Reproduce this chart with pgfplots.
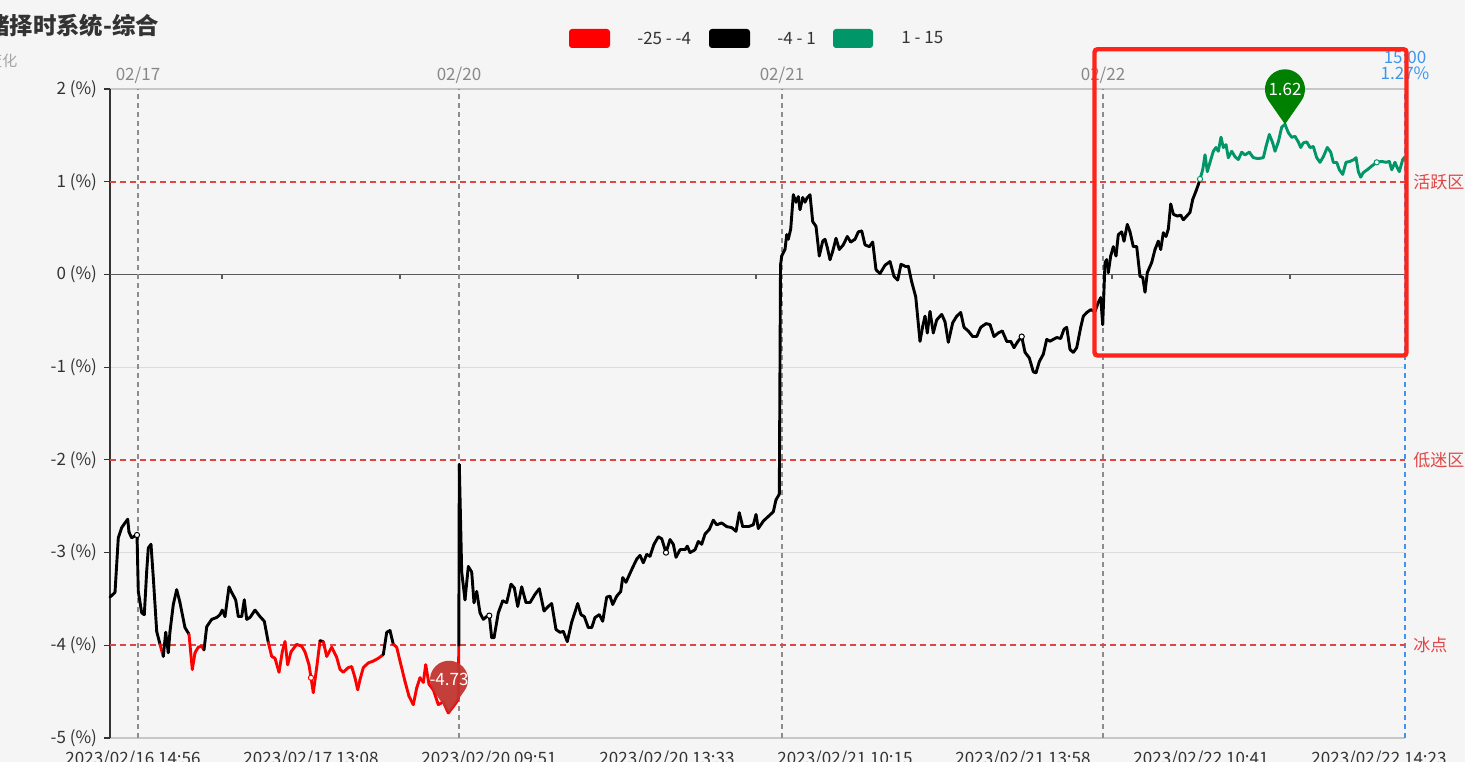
\documentclass[border=0pt]{standalone}
\usepackage{pgfplots}
\usepackage{pgfplotstable}
\pgfplotsset{compat=1.18}
\usepackage{fontspec}
\setmainfont{Noto Sans CJK SC}
\definecolor{bgc}{RGB}{245,245,245}
\definecolor{textdark}{RGB}{51,51,51}
\definecolor{axisdark}{RGB}{51,51,51}
\definecolor{gridgray}{RGB}{220,220,220}
\definecolor{topgray}{RGB}{136,136,136}
\definecolor{zerogray}{RGB}{90,90,90}
\definecolor{dashgray}{RGB}{140,140,140}
\definecolor{zonered}{RGB}{225,70,70}
\definecolor{linegreen}{RGB}{0,150,104}
\definecolor{linered}{RGB}{255,0,0}
\definecolor{pingreen}{RGB}{0,128,0}
\definecolor{pinred}{RGB}{194,53,49}
\definecolor{blueline}{RGB}{60,150,240}
\definecolor{annred}{RGB}{255,35,25}
\newcommand\tlfont{\fontsize{8.5pt}{10pt}\selectfont}

\pgfplotstableread{
x y
110 -3.48
115 -3.43
118.3 -2.84
121.7 -2.73
125 -2.68
127.7 -2.64
129 -2.78
131.7 -2.84
135 -2.82
137 -2.81
138.3 -3.42
141.7 -3.65
144.3 -3.67
146.7 -3.20
148.3 -2.95
151 -2.91
153.3 -3.27
156.7 -3.85
160 -3.99
163.3 -4.12
165.7 -3.86
168.3 -4.08
170 -3.85
173.3 -3.56
176.7 -3.40
180 -3.54
185 -3.81
189 -3.88
192.3 -4.26
195 -4.08
198.3 -4.02
201.7 -4.01
204 -4.05
206.7 -3.80
211.7 -3.72
216.7 -3.70
220 -3.67
222.3 -3.62
225 -3.69
229 -3.37
231.7 -3.43
235.7 -3.51
238.3 -3.69
241.7 -3.69
244.3 -3.51
246.7 -3.72
250 -3.70
255 -3.62
260 -3.69
264.3 -3.74
268.3 -3.97
271.7 -4.12
275 -4.14
279 -4.29
282.3 -4.07
285 -3.96
287.7 -4.21
291 -4.07
296.7 -3.99
301.7 -4.01
305 -4.07
309 -4.21
311 -4.35
313.3 -4.51
316.7 -4.24
320 -3.95
323.3 -3.96
326.7 -4.12
331.7 -4.02
336.7 -4.13
340 -4.26
343.3 -4.29
348.3 -4.24
351.7 -4.23
355 -4.35
357.7 -4.48
360 -4.37
363.3 -4.24
368.3 -4.19
373.3 -4.17
378.3 -4.14
383.3 -4.10
386.7 -3.86
390 -3.84
393.3 -3.99
396.7 -4.02
400 -4.17
405 -4.39
409 -4.55
413.3 -4.64
416.7 -4.46
420 -4.35
423.3 -4.40
425.7 -4.21
429 -4.42
433.3 -4.48
438.3 -4.64
443.3 -4.61
448.3 -4.73
453.3 -4.66
456.7 -4.61
458.3 -4.57
458.8 -4.00
459.3 -2.05
461.7 -3.21
465 -3.51
468.3 -3.15
471.7 -3.21
474 -3.54
476.7 -3.42
480 -3.65
483.3 -3.72
486.7 -3.69
489.3 -3.68
491.7 -3.92
494 -3.92
498.3 -3.65
502.7 -3.52
506.7 -3.54
511 -3.34
514.3 -3.38
517.7 -3.58
521.7 -3.37
526 -3.54
530 -3.54
535 -3.45
539.3 -3.39
544 -3.63
548.3 -3.58
551.7 -3.55
556 -3.83
560 -3.86
563.3 -3.85
567.3 -3.96
571.7 -3.75
577.7 -3.55
581 -3.67
584.3 -3.69
588.3 -3.81
591.7 -3.81
595 -3.70
599.3 -3.67
602.7 -3.74
606.7 -3.48
610 -3.47
612.7 -3.56
616.7 -3.47
620.7 -3.42
622.7 -3.27
626 -3.32
629.3 -3.24
632.7 -3.16
636.7 -3.07
640 -3.03
643.3 -3.11
646.7 -3.02
650 -3.04
654 -2.91
658.3 -2.83
661.7 -2.85
666 -3.00
670 -2.86
673.3 -2.91
676 -3.05
680 -2.97
685 -2.97
687.3 -2.93
690 -3.00
695 -2.97
698.3 -2.88
701.7 -2.91
705 -2.80
709.3 -2.75
713.3 -2.65
716.7 -2.70
721.7 -2.68
726.7 -2.72
731.7 -2.73
736 -2.77
739.3 -2.57
742.7 -2.72
748.3 -2.72
753.3 -2.70
756 -2.59
758.3 -2.74
763.3 -2.66
768.3 -2.61
773.3 -2.56
776 -2.43
779.3 -2.37
780.5 0.10
781.7 0.20
785 0.27
786.7 0.43
788.3 0.38
790.7 0.49
793.3 0.86
796 0.78
798.3 0.84
800 0.70
802.7 0.83
805 0.78
807.3 0.83
810 0.86
812.7 0.57
816 0.52
819.3 0.20
822.7 0.36
825 0.38
827.3 0.29
830 0.16
832.7 0.25
836 0.39
839.3 0.27
843.3 0.32
847.3 0.41
850.7 0.35
855 0.38
858.3 0.46
861.7 0.47
865 0.32
869.3 0.30
872.7 0.35
876 0.05
880 0.01
885 0.10
890 0.14
894 -0.02
897.7 -0.06
901 0.11
905 0.09
908.3 0.09
911.7 -0.08
915.7 -0.24
920 -0.72
922.7 -0.56
925 -0.45
927.3 -0.63
930 -0.40
933.3 -0.63
936.7 -0.49
941.7 -0.43
945 -0.51
948.3 -0.73
952.7 -0.52
956.7 -0.45
960.7 -0.41
964 -0.57
968.3 -0.61
972.7 -0.67
976.7 -0.67
980.7 -0.57
986 -0.53
990 -0.54
994 -0.67
998.3 -0.63
1002.3 -0.61
1006.7 -0.72
1010.7 -0.72
1014 -0.79
1017.3 -0.73
1021.7 -0.67
1025 -0.84
1029.3 -0.90
1033.3 -1.05
1036 -1.06
1039.3 -0.94
1043.3 -0.86
1046.7 -0.70
1050 -0.72
1053.3 -0.70
1056.7 -0.68
1060.7 -0.69
1064 -0.59
1066.7 -0.57
1070 -0.81
1073.3 -0.84
1076.7 -0.79
1080.7 -0.57
1083.3 -0.45
1086.7 -0.41
1090.7 -0.38
1095 -0.40
1098.3 -0.30
1100.7 -0.25
1102.7 -0.54
1105 0.13
1106.7 0.16
1108.3 0.02
1110.7 0.20
1113.3 0.30
1116 0.20
1118.3 0.43
1121.7 0.46
1124 0.36
1127.3 0.54
1130 0.46
1133.3 0.30
1136.7 0.30
1140 -0.02
1142.7 -0.03
1145 -0.19
1147.3 0.02
1151.7 0.13
1155 0.27
1158.3 0.36
1160.7 0.27
1163.3 0.45
1166 0.41
1168.3 0.49
1170.7 0.76
1173.3 0.65
1177.3 0.63
1180.7 0.64
1183.3 0.59
1186.7 0.63
1190 0.67
1192.7 0.81
1196 0.90
1198.3 0.97
1200 1.03
1202.7 1.13
1205 1.29
1207.3 1.11
1210 1.21
1213.3 1.33
1216 1.37
1218.3 1.33
1221 1.48
1223.3 1.37
1226 1.40
1228.3 1.26
1231.7 1.33
1235 1.27
1238.3 1.24
1241.7 1.32
1245 1.29
1249.3 1.32
1253.3 1.26
1258.3 1.25
1263.3 1.26
1266 1.38
1269.3 1.51
1272.7 1.42
1275 1.33
1278.3 1.43
1281.7 1.59
1285 1.62
1288.3 1.53
1291.7 1.48
1295 1.49
1298.3 1.43
1300.7 1.37
1303.3 1.42
1306.7 1.43
1310 1.37
1313.3 1.38
1316.7 1.26
1320 1.21
1323.3 1.27
1327.3 1.37
1330.7 1.32
1333.3 1.21
1336.7 1.21
1339.3 1.13
1342.7 1.08
1346 1.21
1350 1.22
1354 1.24
1356 1.26
1358.3 1.11
1360.7 1.05
1363.3 1.10
1367.3 1.13
1371.7 1.17
1376.7 1.21
1381.7 1.22
1386 1.21
1389.3 1.22
1391.7 1.13
1395 1.21
1397.3 1.15
1399.3 1.11
1402.7 1.24
1405 1.27
}\data

\begin{document}
\begin{tikzpicture}
\fill[bgc] (0,0) rectangle (732.5pt,388.5pt);
% title and subtitle
\node[anchor=west, inner sep=0, font=\fontsize{11.7pt}{13pt}\selectfont\bfseries, text=textdark] at (-7pt,375.5pt) {绪择时系统-综合};
\node[anchor=west, inner sep=0, font=\fontsize{7.5pt}{9pt}\selectfont, text=black!35] at (-6.5pt,358pt) {变化};
% legend
\fill[linered, rounded corners=1.5pt] (284.5pt,364.5pt) rectangle (305pt,374pt);
\node[anchor=west, inner sep=0, font=\tlfont, text=textdark] at (318.5pt,369.5pt) {-25 - -4};
\fill[black, rounded corners=1.5pt] (354.5pt,364.5pt) rectangle (375pt,374pt);
\node[anchor=west, inner sep=0, font=\tlfont, text=textdark] at (388.5pt,369.5pt) {-4 - 1};
\fill[linegreen, rounded corners=1.5pt] (416.5pt,364.5pt) rectangle (436.5pt,374pt);
\node[anchor=west, inner sep=0, font=\tlfont, text=textdark] at (450.5pt,369.5pt) {1 - 15};

\begin{axis}[
  at={(55pt,19.5pt)}, anchor=south west,
  x=0.5pt, y=46.35pt,
  xmin=110, xmax=1405, ymin=-5, ymax=2,
  axis line style={draw=none},
  ytick={-5,-4,-3,-2,-1,0,1,2},
  yticklabels={-5 (\%),-4 (\%),-3 (\%),-2 (\%),-1 (\%),0 (\%),1 (\%),2 (\%)},
  xtick={133,311,489,667,845,1023,1201,1379},
  xticklabels={2023/02/16 14:56,2023/02/17 13:08,2023/02/20 09:51,2023/02/20 13:33,2023/02/21 10:15,2023/02/21 13:58,2023/02/22 10:41,2023/02/22 14:23},
  tick align=outside, major tick length=3pt,
  ytick pos=left,
  xtick style={draw=none},
  ytick style={color=axisdark, line width=0.6pt},
  tick label style={font=\tlfont, text=textdark},
  clip=false,
  colormap={valcm}{color(0cm)=(linered) color(21cm)=(black) color(26cm)=(linegreen) color(40cm)=(linegreen)},
  colormap access=piecewise constant,
  point meta min=-25, point meta max=15,
]
% grid and frame lines
\addplot[color=gridgray, line width=0.6pt] coordinates {(110,-1) (1405,-1)};
\addplot[color=gridgray, line width=0.6pt] coordinates {(110,-3) (1405,-3)};
\addplot[color=black!22, line width=0.6pt] coordinates {(110,2) (1405,2)};
\addplot[color=black!22, line width=0.6pt] coordinates {(110,-5) (1405,-5)};
\addplot[color=axisdark, line width=0.7pt] coordinates {(110,-5) (110,2)};
\addplot[color=zerogray, line width=0.7pt] coordinates {(110,0) (1405,0)};
\draw[color=zerogray, line width=0.6pt] (axis cs:222,0) -- ([yshift=-2.5pt]axis cs:222,0);
\draw[color=zerogray, line width=0.6pt] (axis cs:400,0) -- ([yshift=-2.5pt]axis cs:400,0);
\draw[color=zerogray, line width=0.6pt] (axis cs:578,0) -- ([yshift=-2.5pt]axis cs:578,0);
\draw[color=zerogray, line width=0.6pt] (axis cs:756,0) -- ([yshift=-2.5pt]axis cs:756,0);
\draw[color=zerogray, line width=0.6pt] (axis cs:934,0) -- ([yshift=-2.5pt]axis cs:934,0);
\draw[color=zerogray, line width=0.6pt] (axis cs:1112,0) -- ([yshift=-2.5pt]axis cs:1112,0);
\draw[color=zerogray, line width=0.6pt] (axis cs:1290,0) -- ([yshift=-2.5pt]axis cs:1290,0);
% vertical reference lines
\addplot[color=dashgray, line width=0.6pt, dash pattern=on 2.5pt off 2pt] coordinates {(138,-5) (138,2)};
\addplot[color=dashgray, line width=0.6pt, dash pattern=on 2.5pt off 2pt] coordinates {(459,-5) (459,2)};
\addplot[color=dashgray, line width=0.6pt, dash pattern=on 2.5pt off 2pt] coordinates {(782,-5) (782,2)};
\addplot[color=dashgray, line width=0.6pt, dash pattern=on 2.5pt off 2pt] coordinates {(1103,-5) (1103,2)};
\addplot[color=blueline, line width=0.6pt, dash pattern=on 2.5pt off 2pt] coordinates {(1405,-5) (1405,2)};
% horizontal zone lines
\draw[color=zonered, line width=0.85pt, dash pattern=on 3pt off 2pt] (axis cs:110,1) -- (axis cs:1405,1);
\draw[color=zonered, line width=0.85pt, dash pattern=on 3pt off 2pt] (axis cs:110,-2) -- (axis cs:1405,-2);
\draw[color=zonered, line width=0.85pt, dash pattern=on 3pt off 2pt] (axis cs:110,-4) -- (axis cs:1405,-4);
% main line
\addplot[mesh, point meta=y, line width=1.45pt, line join=round, line cap=round] table[x=x,y=y] {\data};
% label symbols
\addplot[only marks, mark=*, mark size=1.3pt, mark options={draw=black, fill=white, line width=0.5pt}] coordinates {(137,-2.81) (489.3,-3.68) (666,-3.00) (1021.7,-0.67)};
\addplot[only marks, mark=*, mark size=1.3pt, mark options={draw=linered, fill=white, line width=0.5pt}] coordinates {(311,-4.35)};
\addplot[only marks, mark=*, mark size=1.3pt, mark options={draw=linegreen, fill=white, line width=0.5pt}] coordinates {(1200,1.03) (1376.7,1.21)};
% labels
\node[anchor=base, inner sep=0, font=\tlfont, text=topgray] at (axis cs:138,2) [yshift=4.5pt] {02/17};
\node[anchor=base, inner sep=0, font=\tlfont, text=topgray] at (axis cs:459,2) [yshift=4.5pt] {02/20};
\node[anchor=base, inner sep=0, font=\tlfont, text=topgray] at (axis cs:782,2) [yshift=4.5pt] {02/21};
\node[anchor=base, inner sep=0, font=\tlfont, text=topgray] at (axis cs:1103,2) [yshift=4.5pt] {02/22};
\node[anchor=base, inner sep=0, font=\tlfont, text=blueline] at (axis cs:1405,2) [yshift=13pt] {15:00};
\node[anchor=base, inner sep=0, font=\tlfont, text=blueline] at (axis cs:1405,2) [yshift=5pt] {1.27\%};
\node[anchor=west, inner sep=0, font=\tlfont, text=zonered] at (axis cs:1405,1) [xshift=4pt] {活跃区};
\node[anchor=west, inner sep=0, font=\tlfont, text=zonered] at (axis cs:1405,-2) [xshift=4pt] {低迷区};
\node[anchor=west, inner sep=0, font=\tlfont, text=zonered] at (axis cs:1405,-4) [xshift=4pt] {冰点};
\coordinate (gpin) at (axis cs:1285,1.62);
\coordinate (rpin) at (axis cs:449,-4.73);
\draw[color=annred, line width=2.2pt, rounded corners=1.5pt] (axis cs:1094.5,2.43) rectangle (axis cs:1406.5,-0.874);
\end{axis}
% pins
\fill[pingreen] (gpin) -- ++(8.2pt,11.8pt) arc[start angle=-34.8, end angle=214.8, radius=10pt] -- cycle;
\node[inner sep=0, font=\tlfont, text=white] at ([yshift=17.5pt]gpin) {1.62};
\fill[pinred, opacity=0.95] (rpin) -- ++(7.8pt,11.2pt) arc[start angle=-34.8, end angle=214.8, radius=9.5pt] -- cycle;
\node[inner sep=0, font=\tlfont, text=white] at ([yshift=16.7pt]rpin) {-4.73};
% crop strip at bottom
\fill[white] (0,0) rectangle (732.5pt,7.5pt);
\pgfresetboundingbox
\useasboundingbox (0,0) rectangle (732.5pt,388.5pt);
\end{tikzpicture}
\end{document}
